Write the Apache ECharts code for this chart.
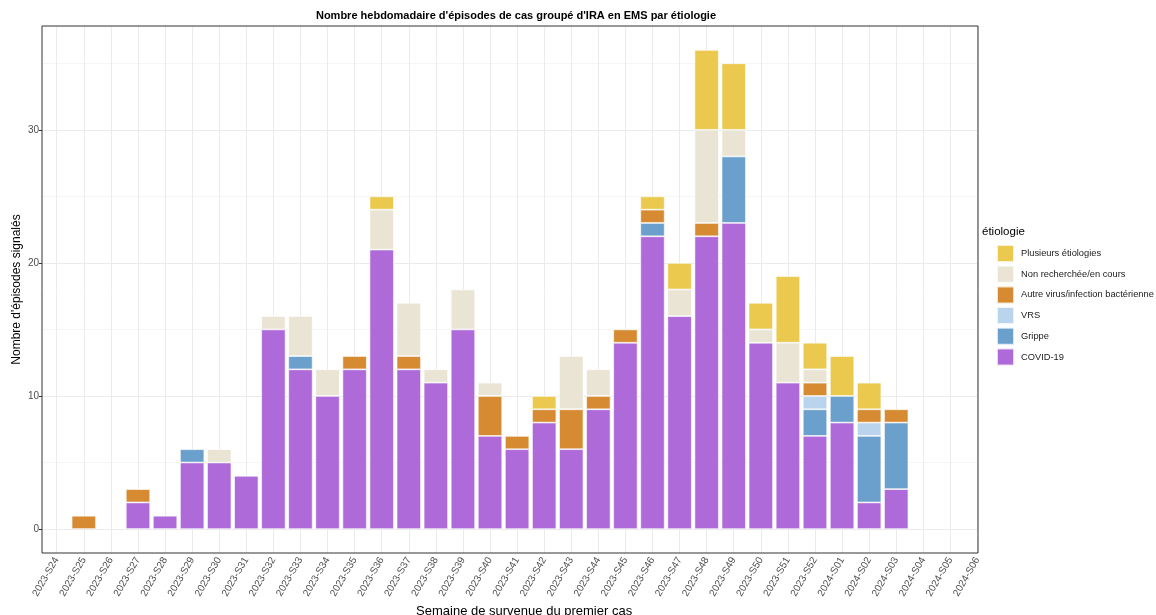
<!DOCTYPE html>
<html>
<head>
<meta charset="utf-8">
<script src="https://cdn.jsdelivr.net/npm/echarts@6/dist/echarts.min.js"></script>
<style>html,body{margin:0;padding:0;background:#fff}#c{width:1156px;height:615px}</style>
</head>
<body>
<div id="c"></div>
<script>
const weeks = ['2023-S24','2023-S25','2023-S26','2023-S27','2023-S28','2023-S29','2023-S30','2023-S31','2023-S32','2023-S33','2023-S34','2023-S35','2023-S36','2023-S37','2023-S38','2023-S39','2023-S40','2023-S41','2023-S42','2023-S43','2023-S44','2023-S45','2023-S46','2023-S47','2023-S48','2023-S49','2023-S50','2023-S51','2023-S52','2024-S01','2024-S02','2024-S03','2024-S04','2024-S05','2024-S06'];
const covid    = [0,0,0,2,1,5,5,4,15,12,10,12,21,12,11,15,7,6,8,6,9,14,22,16,22,23,14,11,7,8,2,3,0,0,0];
const grippe   = [0,0,0,0,0,1,0,0,0,1,0,0,0,0,0,0,0,0,0,0,0,0,1,0,0,5,0,0,2,2,5,5,0,0,0];
const vrs      = [0,0,0,0,0,0,0,0,0,0,0,0,0,0,0,0,0,0,0,0,0,0,0,0,0,0,0,0,1,0,1,0,0,0,0];
const autre    = [0,1,0,1,0,0,0,0,0,0,0,1,0,1,0,0,3,1,1,3,1,1,1,0,1,0,0,0,1,0,1,1,0,0,0];
const nonRech  = [0,0,0,0,0,0,1,0,1,3,2,0,3,4,1,3,1,0,0,4,2,0,0,2,7,2,1,3,1,0,0,0,0,0,0];
const plusieurs= [0,0,0,0,0,0,0,0,0,0,0,0,1,0,0,0,0,0,1,0,0,0,1,2,6,5,2,5,2,3,2,0,0,0,0];
const seriesNames = ['COVID-19','Grippe','VRS','Autre virus/infection bactérienne','Non recherchée/en cours','Plusieurs étiologies'];
const seriesColors = ['#AE6AD9','#6BA0CD','#B9D4EC','#D68A31','#EAE4D4','#EBC94F'];
const seriesData = [covid, grippe, vrs, autre, nonRech, plusieurs];
const yTicks = [0,10,20,30];

const FONT = '"Liberation Sans", Arial, sans-serif';
const chart = echarts.init(document.getElementById('c'), null, {renderer:'canvas'});

const barSeries = seriesNames.map((n,i)=>({
  name: n, type: 'bar', stack: 'tot', xAxisIndex: 0, yAxisIndex: 0,
  barWidth: '90%', z: 2,
  itemStyle: {color: seriesColors[i], borderColor: 'rgba(255,255,255,0.75)', borderWidth: 0.8},
  data: seriesData[i].map(v => v === 0 ? null : v)
}));

const option = {
  animation: false,
  textStyle: {fontFamily: FONT},
  grid: [
    {left: 43.2, right: 165, top: 26, bottom: 62, containLabel: false, outerBoundsMode: 'none'},
    {left: 42, right: 178, top: 63.27, bottom: 85.95, containLabel: false, outerBoundsMode: 'none'}
  ],
  xAxis: [
    {type: 'category', gridIndex: 0, data: weeks, boundaryGap: true,
     axisLine: {show: false},
     axisTick: {show: true, alignWithLabel: true, length: 3, lineStyle: {color: '#333'}},
     axisLabel: {rotate: 60, interval: 0, fontSize: 10, color: '#4d4d4d', margin: 5, fontFamily: FONT},
     splitLine: {show: false},
     name: 'Semaine de survenue du premier cas', nameLocation: 'middle', nameGap: 52, nameMoveOverlap: false,
     nameTextStyle: {fontSize: 13, color: '#000', fontFamily: FONT, padding: [0,0,0,14]}
    },
    {type: 'value', gridIndex: 1, min: 0, max: 1, show: false}
  ],
  yAxis: [
    {type: 'value', gridIndex: 0, min: -1.8, max: 37.8, offset: 1.2,
     axisLine: {show: false},
     axisTick: {show: true, length: 3, customValues: yTicks, lineStyle: {color: '#333'}},
     axisLabel: {customValues: yTicks, fontSize: 10, color: '#4d4d4d', margin: 3, fontFamily: FONT},
     splitLine: {show: false},
     name: "Nombre d'épisodes signalés", nameLocation: 'middle', nameGap: 19, nameRotate: 90, nameMoveOverlap: false,
     nameTextStyle: {fontSize: 12, color: '#000', fontFamily: FONT}
    },
    {type: 'value', gridIndex: 1, min: 0, max: 35, interval: 5,
     axisLine: {show: false}, axisTick: {show: false}, axisLabel: {show: false},
     splitLine: {show: true, lineStyle: {color: ['#EBEBEB','#F5F5F5'], width: 1}}
    }
  ],
  legend: {
    orient: 'vertical', left: 996, top: 244, padding: 0,
    itemWidth: 17, itemHeight: 17, itemGap: 1.7, icon: 'rect',
    data: seriesNames.slice().reverse(),
    textStyle: {fontSize: 9.3, color: '#1a1a1a', fontFamily: FONT, padding: [0,0,0,2]},
    selectedMode: false
  },
  graphic: [
    {type: 'text', x: 516, y: 10, z: 10,
     style: {text: "Nombre hebdomadaire d'épisodes de cas groupé d'IRA en EMS par étiologie", font: 'bold 11px ' + FONT, fill: '#000', textAlign: 'center'}},
    {type: 'text', x: 982, y: 226, z: 10,
     style: {text: 'étiologie', font: '11.5px ' + FONT, fill: '#000'}},
    {type: 'rect', x: 978.5, y: 20, z: 5, shape: {width: 14, height: 540}, style: {fill: '#fff'}},
    {type: 'rect', x: 42, y: 26, z: 10, shape: {width: 936, height: 527}, style: {fill: null, stroke: '#333', lineWidth: 1}}
  ],
  series: [
    {type: 'line', xAxisIndex: 0, yAxisIndex: 0, z: 1, silent: true,
     data: weeks.map(()=>null), showSymbol: false, lineStyle: {opacity: 0},
     markLine: {silent: true, z: 1, symbol: ['none','none'], animation: false,
       label: {show: false},
       lineStyle: {color: '#EBEBEB', type: 'solid', width: 1},
       emphasis: {disabled: true},
       data: weeks.map(w => ({xAxis: w}))}
    },
    ...barSeries
  ]
};
chart.setOption(option);
</script>
</body>
</html>
